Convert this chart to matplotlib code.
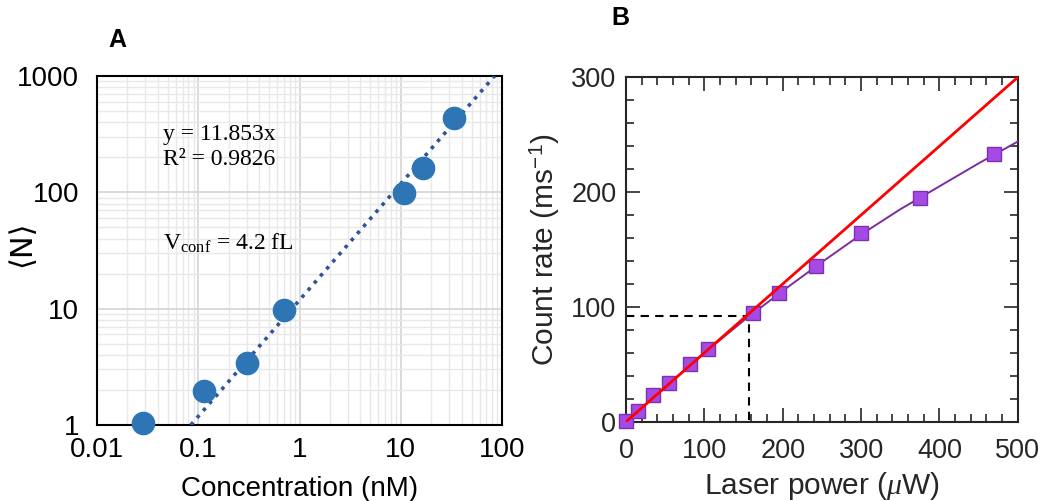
import numpy as np
import matplotlib
matplotlib.use("Agg")
import matplotlib.pyplot as plt
from matplotlib.ticker import FixedLocator, NullFormatter, MultipleLocator

plt.rcParams['font.family'] = ['Liberation Sans', 'DejaVu Sans']
plt.rcParams['mathtext.fontset'] = 'custom'
plt.rcParams['mathtext.rm'] = 'Liberation Serif'
plt.rcParams['mathtext.it'] = 'Liberation Serif:italic'
plt.rcParams['mathtext.sf'] = 'Liberation Sans'

# panel A: concentration vs <N>
conc = [0.0287, 0.115, 0.303, 0.71, 10.8, 16.7, 33.6]
n_mol = [1.05, 1.96, 3.4, 9.8, 99, 163, 435]
fit_slope = 11.853
fit_x = [0.0844, 84.4]

# panel B: laser power vs count rate
power = [0, 15, 35, 55, 82, 105, 162, 195, 243, 300, 375, 470]
rate = [1, 9, 23, 34, 50, 63, 95, 112, 136, 164, 195, 233]
curve_x = [0, 50, 100, 150, 200, 250, 300, 350, 400, 450, 500]
curve_y = [0, 30, 60, 88, 114, 139, 163, 185, 205, 225, 244]
lin_x = [0, 500]
lin_y = [0, 300]
knee_x = 157
knee_y = 92

fig = plt.figure(figsize=(10.42, 5.01), dpi=100)

# ---- A ----
axA = fig.add_axes([0.0931, 0.1517, 0.3887, 0.6966])
axA.set_xscale('log')
axA.set_yscale('log')
axA.set_xlim(0.01, 100)
axA.set_ylim(1, 1000)

minor_x = [m * 10.0**e for e in range(-2, 2) for m in range(2, 10)]
minor_y = [m * 10.0**e for e in range(0, 3) for m in range(2, 10)]
axA.xaxis.set_minor_locator(FixedLocator(minor_x))
axA.yaxis.set_minor_locator(FixedLocator(minor_y))
axA.xaxis.set_minor_formatter(NullFormatter())
axA.yaxis.set_minor_formatter(NullFormatter())
axA.set_xticks([0.01, 0.1, 1, 10, 100])
axA.set_xticklabels(['0.01', '0.1', '1', '10', '100'])
axA.set_yticks([1, 10, 100, 1000])
axA.set_yticklabels(['1', '10', '100', '1000'])
axA.grid(which='major', color='#d4d4d4', lw=1.2)
axA.grid(which='minor', color='#e8e8e8', lw=1.0)
axA.set_axisbelow(True)
axA.tick_params(which='both', length=0, labelsize=20)
axA.tick_params(axis='y', pad=13)
axA.tick_params(axis='x', pad=9)

fx = np.array(fit_x)
axA.plot(fx, fit_slope * fx, color='#2f5597', lw=2.6, linestyle=(0, (1, 1.6)), zorder=3)
axA.plot(conc, n_mol, 'o', color='#2e75b6', markersize=16, zorder=4, clip_on=False)

for s in axA.spines.values():
    s.set_color('black')
    s.set_linewidth(1.5)

axA.set_xlabel('Concentration (nM)', fontsize=20)
axA.xaxis.set_label_coords(0.5, -0.146)
axA.set_ylabel('⟨N⟩', fontsize=22, family=['DejaVu Sans'])
axA.yaxis.set_label_coords(-0.15, 0.52)

serif = ['Liberation Serif', 'DejaVu Serif']
axA.text(0.163, 0.831, 'y = 11.853x', transform=axA.transAxes, fontsize=17,
         family=serif, va='center')
axA.text(0.163, 0.762, 'R² = 0.9826', transform=axA.transAxes, fontsize=17,
         family=serif, va='center')
axA.text(0.163, 0.521, 'V$_{\\mathrm{conf}}$ = 4.2 fL', transform=axA.transAxes,
         fontsize=17, family=serif, va='center')
fig.text(117 / 1042, 1 - 40 / 501, 'A', fontsize=18, fontweight='bold', ha='center', va='center')

# ---- B ----
axB = fig.add_axes([0.6008, 0.1583, 0.3759, 0.6874])
axB.set_xlim(0, 500)
axB.set_ylim(0, 300)
axB.xaxis.set_major_locator(MultipleLocator(100))
axB.xaxis.set_minor_locator(MultipleLocator(20))
axB.yaxis.set_major_locator(MultipleLocator(100))
axB.yaxis.set_minor_locator(MultipleLocator(20))
axB.tick_params(which='both', direction='in', top=True, right=True,
                colors='#262626', labelsize=19.5, width=1.2)
axB.tick_params(which='major', length=10)
axB.tick_params(axis='x', pad=12)
axB.tick_params(axis='y', pad=7)
axB.tick_params(which='minor', length=6)
for s in axB.spines.values():
    s.set_color('#262626')
    s.set_linewidth(1.5)

axB.plot([0, knee_x, knee_x], [knee_y, knee_y, 0], color='black', lw=1.5,
         linestyle=(0, (4, 3)), zorder=2)
axB.plot(curve_x, curve_y, color='#7a2e9e', lw=1.4, zorder=3)
axB.plot(power, rate, 's', color='#a64ae6', mec='#7d30b0', mew=1.0,
         markersize=10, zorder=4, clip_on=False)
axB.plot(lin_x, lin_y, color='#ff0000', lw=2.0, zorder=5)

axB.set_xlabel('Laser power ($\\mu$W)', fontsize=21.5, color='#262626')
axB.xaxis.set_label_coords(0.5, -0.14)
axB.set_ylabel('Count rate (ms$^{\\mathsf{-1}}$)', fontsize=21.5, color='#262626')
axB.yaxis.set_label_coords(-0.163, 0.5)
fig.text(620 / 1042, 1 - 18 / 501, 'B', fontsize=18, fontweight='bold', ha='center', va='center')

fig.savefig('out.png', dpi=100)
